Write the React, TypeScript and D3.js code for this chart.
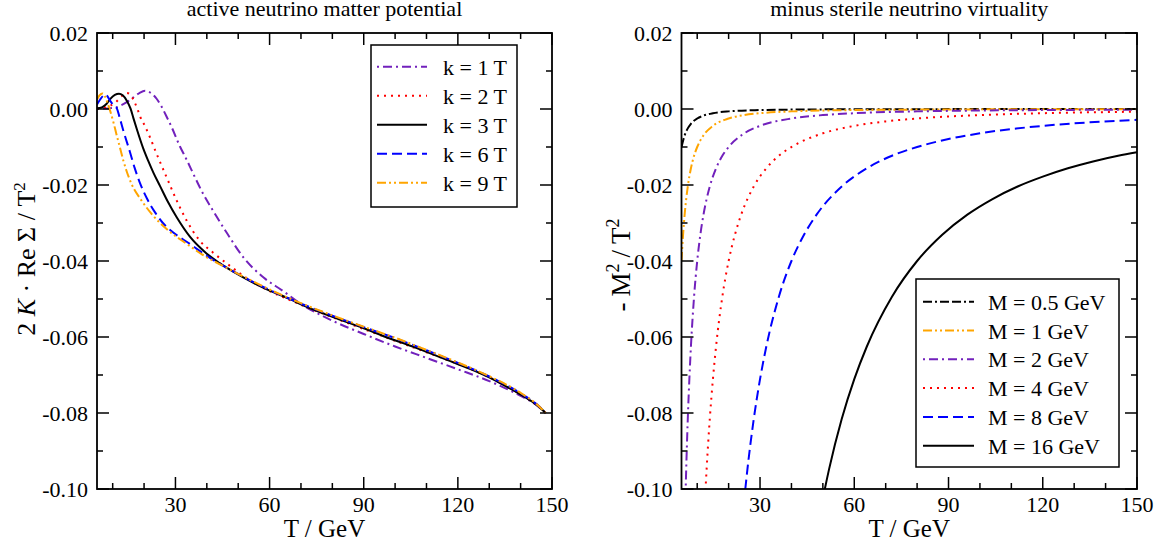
import React from 'react';
import * as d3 from 'd3';

type Pt = [number, number];

// ---------- Left panel: active neutrino matter potential ----------
const kLabels = ['k = 1 T', 'k = 2 T', 'k = 3 T', 'k = 6 T', 'k = 9 T'];

const k1: Pt[] = [
  [5, 0.0], [7, 0.0001], [9, 0.0002], [11, 0.0004], [12.5, 0.0009], [14.5, 0.0018],
  [16.5, 0.003], [18.5, 0.0042], [20.3, 0.0048], [22, 0.0043], [24, 0.0027], [25.6, 0.0006],
  [27, -0.0017], [28.8, -0.0048], [31.4, -0.0098], [33.6, -0.0134], [36, -0.0176],
  [38.3, -0.0215], [42, -0.0268], [46.3, -0.0325], [51.6, -0.039], [58, -0.0443],
  [64.3, -0.0479], [70, -0.0513], [80, -0.0557], [90, -0.0592], [100, -0.0625],
  [110, -0.0655], [120, -0.0685], [130, -0.0716], [140, -0.0755], [145, -0.0779], [148, -0.0800],
];

const k2: Pt[] = [
  [5, 0.0001], [7, 0.0003], [9, 0.0008], [11, 0.0018], [12.9, 0.0034], [14.5, 0.0042],
  [15.8, 0.0036], [16.8, 0.0021], [17.8, 0.0002], [18.9, -0.0023], [20.3, -0.0045],
  [21.9, -0.0075], [24, -0.0118], [27.2, -0.018], [30.4, -0.0241], [33.6, -0.0294],
  [37.8, -0.0347], [42, -0.0378], [47.4, -0.0413], [51.6, -0.0439], [56, -0.0462],
  [60, -0.0479], [70, -0.0515], [80, -0.0548], [90, -0.0579], [100, -0.061], [110, -0.064],
  [120, -0.0671], [130, -0.0706], [140, -0.0751], [145, -0.0778], [148, -0.0800],
];

const k3: Pt[] = [
  [5, 0.0002], [6.5, 0.0004], [8, 0.0013], [9.4, 0.0028], [10.7, 0.0037], [12, 0.004],
  [13.2, 0.0036], [14.5, 0.0022], [15.7, 0.0001], [16.6, -0.0024], [17.8, -0.0056],
  [19.7, -0.0103], [21.3, -0.0136], [23, -0.0168], [25.1, -0.0203], [27.5, -0.0243],
  [30.4, -0.0285], [34.6, -0.0336], [39.9, -0.038], [44, -0.0405], [48.4, -0.0428],
  [55, -0.0458], [60, -0.0478], [66.5, -0.05], [70, -0.0514], [80, -0.0547], [90, -0.0577],
  [98.3, -0.0604], [103.6, -0.0619], [110, -0.0639], [117.4, -0.0663], [125, -0.0688],
  [132.3, -0.0716], [138, -0.0742], [141.8, -0.076], [145, -0.0778], [148, -0.0800],
];

const k6: Pt[] = [
  [5, 0.0012], [6, 0.0025], [7, 0.0035], [7.8, 0.0038], [8.6, 0.003], [9.5, 0.0018],
  [10.5, 0.0008], [11.3, 0.0002], [12.2, -0.0022], [13.4, -0.0057], [15.5, -0.0113],
  [17, -0.0155], [18.7, -0.0195], [21, -0.0237], [23.5, -0.0272], [26, -0.03],
  [29.3, -0.0325], [34.6, -0.0355], [39.9, -0.0386], [44, -0.0407], [48.4, -0.0427],
  [55, -0.0456], [60, -0.0476], [70, -0.0512], [80, -0.0544], [90, -0.0574], [100, -0.0603],
  [110, -0.0635], [120, -0.0668], [130, -0.0704], [140, -0.0748], [145, -0.0776], [148, -0.0800],
];

const k9: Pt[] = [
  [5, 0.0025], [5.8, 0.0036], [6.8, 0.0041], [7.6, 0.0032], [8.3, 0.0017], [9.2, -0.0005],
  [10.4, -0.004], [11.3, -0.007], [12.3, -0.0101], [13.4, -0.0136], [14.5, -0.0165],
  [16, -0.0197], [19.2, -0.0241], [22.4, -0.0276], [27.2, -0.0316], [33.6, -0.0355],
  [39.9, -0.039], [44, -0.0408], [48.4, -0.0427], [55, -0.0455], [60, -0.0475],
  [70, -0.0511], [80, -0.0543], [90, -0.0573], [100, -0.0602], [110, -0.0634], [120, -0.0667],
  [130, -0.0703], [140, -0.0747], [145, -0.0776], [148, -0.0800],
];

// ---------- Right panel: minus sterile neutrino virtuality ----------
const mLabels = ['M = 0.5 GeV', 'M = 1 GeV', 'M = 2 GeV', 'M = 4 GeV', 'M = 8 GeV', 'M = 16 GeV'];

const m05: Pt[] = [
  [5, -0.01], [6, -0.00694], [7, -0.0051], [8, -0.0039], [10, -0.0025], [12, -0.00174],
  [15, -0.00111], [20, -0.000625], [30, -0.000278], [40, -0.000156], [60, -0.0000694],
  [90, -0.0000309], [120, -0.0000174], [150, -0.0000111],
];

const m1: Pt[] = [
  [5, -0.04], [5.5, -0.0331], [6, -0.0278], [7, -0.0204], [8, -0.0156], [9, -0.0123],
  [10, -0.01], [12, -0.00694], [15, -0.00444], [20, -0.0025], [25, -0.0016], [30, -0.00111],
  [40, -0.000625], [50, -0.0004], [60, -0.000278], [80, -0.000156], [100, -0.0001],
  [125, -0.000064], [150, -0.0000444],
];

const m2: Pt[] = [
  [6.2, -0.1041], [6.5, -0.0947], [7, -0.0816], [7.5, -0.0711], [8, -0.0625], [9, -0.0494],
  [10, -0.04], [11, -0.0331], [12, -0.0278], [14, -0.0204], [16, -0.0156], [18, -0.0123],
  [20, -0.01], [25, -0.0064], [30, -0.00444], [40, -0.0025], [50, -0.0016], [60, -0.00111],
  [80, -0.000625], [100, -0.0004], [125, -0.000256], [150, -0.000178],
];

const m4: Pt[] = [
  [12.4, -0.1041], [13, -0.0947], [14, -0.0816], [15, -0.0711], [16, -0.0625], [18, -0.0494],
  [20, -0.04], [22, -0.0331], [24, -0.0278], [28, -0.0204], [32, -0.0156], [36, -0.0123],
  [40, -0.01], [50, -0.0064], [60, -0.00444], [70, -0.00327], [80, -0.0025], [100, -0.0016],
  [120, -0.00111], [150, -0.000711],
];

const m8: Pt[] = [
  [24.8, -0.1041], [26, -0.0947], [28, -0.0816], [30, -0.0711], [32, -0.0625], [36, -0.0494],
  [40, -0.04], [44, -0.0331], [48, -0.0278], [56, -0.0204], [64, -0.0156], [72, -0.0123],
  [80, -0.01], [90, -0.0079], [100, -0.0064], [120, -0.00444], [135, -0.00351], [150, -0.00284],
];

const m16: Pt[] = [
  [49.6, -0.1041], [52, -0.0947], [56, -0.0816], [60, -0.0711], [64, -0.0625], [72, -0.0494],
  [80, -0.04], [88, -0.0331], [96, -0.0278], [104, -0.0237], [112, -0.0204], [120, -0.0178],
  [128, -0.0156], [136, -0.0138], [144, -0.0123], [150, -0.01138],
];

// ---------- Axes ----------
const xMajorTicks = [30, 60, 90, 120, 150];
const xMinorTicks = [10, 20, 40, 50, 70, 80, 100, 110, 130, 140];
const yMajorTicks = [0.02, 0.0, -0.02, -0.04, -0.06, -0.08, -0.1];
const yMinorTicks = [0.01, -0.01, -0.03, -0.05, -0.07, -0.09];
const xDomain: [number, number] = [5, 150];
const yDomain: [number, number] = [-0.1, 0.02];

const VIOLET = '#7221bc';
const RED = '#ff0000';
const BLUE = '#0000ff';
const ORANGE = '#ffa500';
const BLACK = '#000000';

const FONT = "'Liberation Serif', 'Times New Roman', serif";

type Style = { color: string; dash: string | null };

const leftStyles: Style[] = [
  { color: VIOLET, dash: '2,4,9,4' },
  { color: RED, dash: '2,5' },
  { color: BLACK, dash: null },
  { color: BLUE, dash: '10,5' },
  { color: ORANGE, dash: '9,3,2,3,2,3' },
];

const rightStyles: Style[] = [
  { color: BLACK, dash: '9,3,2,3,9,3' },
  { color: ORANGE, dash: '9,3,2,3,2,3' },
  { color: VIOLET, dash: '2,4,9,4' },
  { color: RED, dash: '2,5' },
  { color: BLUE, dash: '10,5' },
  { color: BLACK, dash: null },
];

type Box = { x0: number; x1: number; y0: number; y1: number };

type LegendSpec = {
  x0: number; y0: number; x1: number; y1: number;
  firstY: number; step: number; lineX0: number; lineX1: number; textX: number;
};

function Panel(props: {
  id: string;
  box: Box;
  series: Pt[][];
  styles: Style[];
  labels: string[];
  legend: LegendSpec;
  title: string;
  yLabel: React.ReactNode;
  yLabelX: number;
  yLabelY: number;
  yLabelSize: number;
}) {
  const { id, box, series, styles, labels, legend, title, yLabel, yLabelX, yLabelY, yLabelSize } = props;
  const x = d3.scaleLinear().domain(xDomain).range([box.x0, box.x1]);
  const y = d3.scaleLinear().domain(yDomain).range([box.y1, box.y0]);
  const line = d3
    .line<Pt>()
    .x((d) => x(d[0]))
    .y((d) => y(d[1]))
    .curve(d3.curveMonotoneX);
  const cx = (box.x0 + box.x1) / 2;
  const MAJ = 12;
  const MIN = 6;
  const tickStroke = { stroke: '#000', strokeWidth: 1.5 };
  return (
    <g>
      <defs>
        <clipPath id={`clip-${id}`}>
          <rect x={box.x0} y={box.y0} width={box.x1 - box.x0} height={box.y1 - box.y0} />
        </clipPath>
      </defs>
      <text x={cx} y={16} textAnchor="middle" fontFamily={FONT} fontSize={22}>
        {title}
      </text>
      <g clipPath={`url(#clip-${id})`}>
        {series.map((s, i) => (
          <path
            key={i}
            d={line(s) || ''}
            fill="none"
            stroke={styles[i].color}
            strokeWidth={2}
            strokeDasharray={styles[i].dash || undefined}
          />
        ))}
      </g>
      {/* ticks */}
      {xMajorTicks.map((t) => (
        <g key={`xM${t}`}>
          <line x1={x(t)} x2={x(t)} y1={box.y1} y2={box.y1 - MAJ} {...tickStroke} />
          <line x1={x(t)} x2={x(t)} y1={box.y0} y2={box.y0 + MAJ} {...tickStroke} />
          <text x={x(t)} y={512} textAnchor="middle" fontFamily={FONT} fontSize={22}>
            {t}
          </text>
        </g>
      ))}
      {xMinorTicks.map((t) => (
        <g key={`xm${t}`}>
          <line x1={x(t)} x2={x(t)} y1={box.y1} y2={box.y1 - MIN} {...tickStroke} />
          <line x1={x(t)} x2={x(t)} y1={box.y0} y2={box.y0 + MIN} {...tickStroke} />
        </g>
      ))}
      {yMajorTicks.map((t) => (
        <g key={`yM${t}`}>
          <line x1={box.x0} x2={box.x0 + MAJ} y1={y(t)} y2={y(t)} {...tickStroke} />
          <line x1={box.x1} x2={box.x1 - MAJ} y1={y(t)} y2={y(t)} {...tickStroke} />
          <text x={box.x0 - 9} y={y(t)} dy="0.35em" textAnchor="end" fontFamily={FONT} fontSize={22}>
            {t.toFixed(2)}
          </text>
        </g>
      ))}
      {yMinorTicks.map((t) => (
        <g key={`ym${t}`}>
          <line x1={box.x0} x2={box.x0 + MIN} y1={y(t)} y2={y(t)} {...tickStroke} />
          <line x1={box.x1} x2={box.x1 - MIN} y1={y(t)} y2={y(t)} {...tickStroke} />
        </g>
      ))}
      <rect
        x={box.x0}
        y={box.y0}
        width={box.x1 - box.x0}
        height={box.y1 - box.y0}
        fill="none"
        stroke="#000"
        strokeWidth={1.8}
      />
      <text x={cx} y={537} textAnchor="middle" fontFamily={FONT} fontSize={25}>
        T / GeV
      </text>
      <text
        transform={`translate(${yLabelX},${yLabelY}) rotate(-90)`}
        textAnchor="middle"
        fontFamily={FONT}
        fontSize={yLabelSize}
      >
        {yLabel}
      </text>
      {/* legend */}
      <rect
        x={legend.x0}
        y={legend.y0}
        width={legend.x1 - legend.x0}
        height={legend.y1 - legend.y0}
        fill="#fff"
        stroke="#000"
        strokeWidth={1.5}
      />
      {labels.map((lab, i) => {
        const ly = legend.firstY + i * legend.step;
        return (
          <g key={lab}>
            <line
              x1={legend.lineX0}
              x2={legend.lineX1}
              y1={ly}
              y2={ly}
              stroke={styles[i].color}
              strokeWidth={2}
              strokeDasharray={styles[i].dash || undefined}
            />
            <text x={legend.textX} y={ly + 8} fontFamily={FONT} fontSize={22}>
              {lab}
            </text>
          </g>
        );
      })}
    </g>
  );
}

export default function App() {
  const leftBox: Box = { x0: 97, x1: 552, y0: 33, y1: 489 };
  const rightBox: Box = { x0: 681.5, x1: 1137, y0: 33, y1: 489 };
  const leftLegend: LegendSpec = {
    x0: 371, y0: 45, x1: 517, y1: 207, firstY: 66.7, step: 29, lineX0: 377, lineX1: 427, textX: 443,
  };
  const rightLegend: LegendSpec = {
    x0: 916, y0: 279, x1: 1119, y1: 467, firstY: 301.7, step: 28.8, lineX0: 923, lineX1: 974, textX: 988,
  };
  const leftYLabel = (
    <>
      <tspan>2 </tspan>
      <tspan fontStyle="italic">K</tspan>
      <tspan> · Re Σ / T</tspan>
      <tspan dy={-10} fontSize={17}>2</tspan>
    </>
  );
  const rightYLabel = (
    <>
      <tspan>-</tspan>
      <tspan dx={6}>M</tspan>
      <tspan dy={-11} fontSize={18}>2</tspan>
      <tspan dy={11} dx={6}>/</tspan>
      <tspan dx={6}>T</tspan>
      <tspan dy={-11} fontSize={18}>2</tspan>
    </>
  );
  return (
    <svg
      width={1164}
      height={544}
      style={{ position: 'absolute', left: 0, top: 0, background: '#fff' }}
    >
      <rect x={0} y={0} width={1164} height={544} fill="#fff" />
      <Panel
        id="left"
        box={leftBox}
        series={[k1, k2, k3, k6, k9]}
        styles={leftStyles}
        labels={kLabels}
        legend={leftLegend}
        title="active neutrino matter potential"
        yLabel={leftYLabel}
        yLabelX={35}
        yLabelY={259}
        yLabelSize={26}
      />
      <Panel
        id="right"
        box={rightBox}
        series={[m05, m1, m2, m4, m8, m16]}
        styles={rightStyles}
        labels={mLabels}
        legend={rightLegend}
        title="minus sterile neutrino virtuality"
        yLabel={rightYLabel}
        yLabelX={630}
        yLabelY={265}
        yLabelSize={27}
      />
    </svg>
  );
}
